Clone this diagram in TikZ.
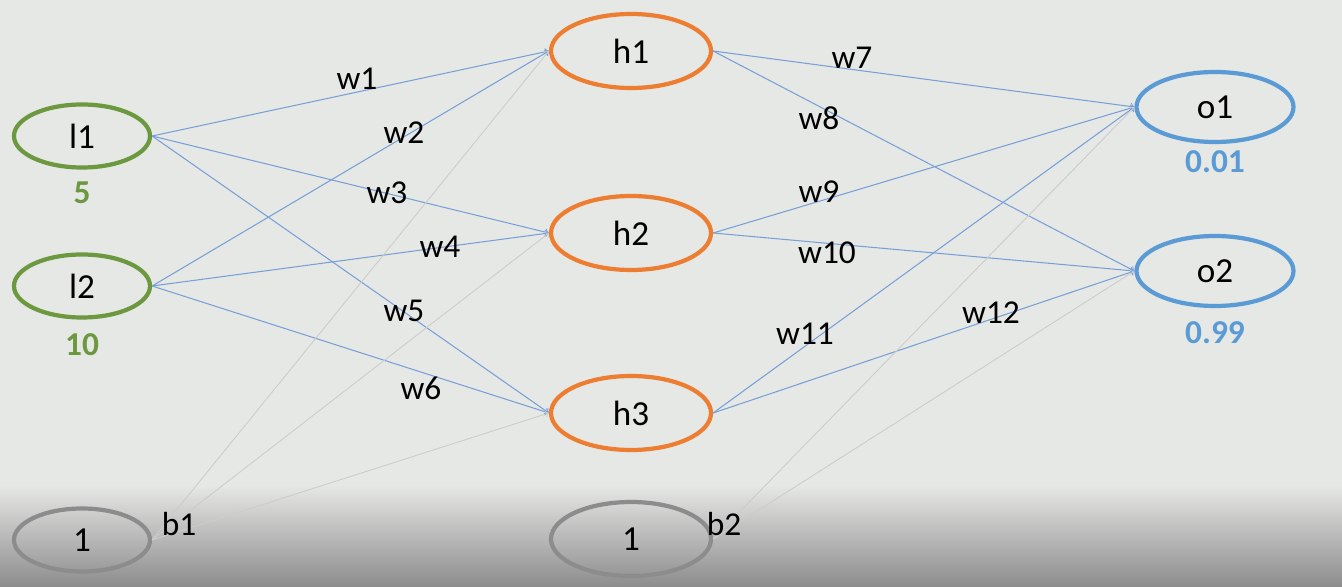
\documentclass[tikz,border=0pt]{standalone}
\usepackage{fontspec}
\setmainfont{Carlito}
\usetikzlibrary{shapes}
\definecolor{bg}{RGB}{230,232,229}
\definecolor{ingreen}{RGB}{108,152,64}
\definecolor{hidorange}{RGB}{237,125,49}
\definecolor{outblue}{RGB}{91,155,213}
\definecolor{edgeblue}{RGB}{120,160,215}
\definecolor{biasgray}{RGB}{140,140,140}
\tikzset{
  neuron/.style={ellipse,draw,line width=2.4pt,minimum width=2.72cm,minimum height=1.26cm,font=\fontsize{20}{22}\selectfont},
  wlabel/.style={font=\fontsize{19}{21}\selectfont},
  vallabel/.style={font=\fontsize{19}{21}\selectfont\bfseries},
  weight/.style={->,draw=edgeblue,line width=0.6pt},
  biasedge/.style={->,draw=black!20,line width=0.5pt}
}

\begin{document}
\begin{tikzpicture}[x=0.2mm,y=-0.2mm]
\useasboundingbox (0,0) rectangle (1342,587);
\fill[bg] (0,0) rectangle (1342,587);
\shade[top color=bg,bottom color=black!45] (0,485) rectangle (1342,587);
% input layer
\node[neuron,draw=ingreen] (l1) at (82,136) {l1};
\node[neuron,draw=ingreen] (l2) at (82,286) {l2};
\node[neuron,draw=biasgray] (b1) at (82,540) {1};
\node[vallabel,text=ingreen] (v1) at (82,193) {5};
\node[vallabel,text=ingreen] (v2) at (82,345) {10};
% hidden layer
\node[neuron,draw=hidorange,minimum width=3.2cm,minimum height=1.48cm] (h1) at (631,51) {h1};
\node[neuron,draw=hidorange,minimum width=3.2cm,minimum height=1.48cm] (h2) at (631,233) {h2};
\node[neuron,draw=hidorange,minimum width=3.2cm,minimum height=1.48cm] (h3) at (631,413) {h3};
\node[neuron,draw=biasgray,minimum width=3.2cm,minimum height=1.48cm] (b2) at (631,539) {1};
% output layer
\node[neuron,draw=outblue,minimum width=3.14cm,minimum height=1.4cm] (o1) at (1215,107) {o1};
\node[neuron,draw=outblue,minimum width=3.14cm,minimum height=1.4cm] (o2) at (1215,271) {o2};
\node[vallabel,text=outblue] (v3) at (1215,162) {0.01};
\node[vallabel,text=outblue] (v4) at (1215,333) {0.99};
% weights
\foreach \a in {l1,l2}
  \foreach \b in {h1,h2,h3}
    \draw[weight] (\a.east) -- (\b.west);
\foreach \b in {h1,h2,h3}
  \draw[biasedge] (b1.east) -- (\b.west);
\foreach \a in {h1,h2,h3}
  \foreach \b in {o1,o2}
    \draw[weight] (\a.east) -- (\b.west);
\foreach \b in {o1,o2}
  \draw[biasedge] (b2.east) -- (\b.west);
% labels
\node[wlabel] (w1) at (357,79) {w1};
\node[wlabel] (w2) at (404,133) {w2};
\node[wlabel] (w3) at (387,193) {w3};
\node[wlabel] (w4) at (440,247) {w4};
\node[wlabel] (w5) at (404,311) {w5};
\node[wlabel] (w6) at (421,388) {w6};
\node[wlabel] (w7) at (852,58) {w7};
\node[wlabel] (w8) at (819,118) {w8};
\node[wlabel] (w9) at (819,192) {w9};
\node[wlabel] (w10) at (827,253) {w10};
\node[wlabel] (w11) at (805,334) {w11};
\node[wlabel] (w12) at (991,313) {w12};
\node[wlabel] (bl1) at (179,524) {b1};
\node[wlabel] (bl2) at (724,524) {b2};
\end{tikzpicture}
\end{document}
